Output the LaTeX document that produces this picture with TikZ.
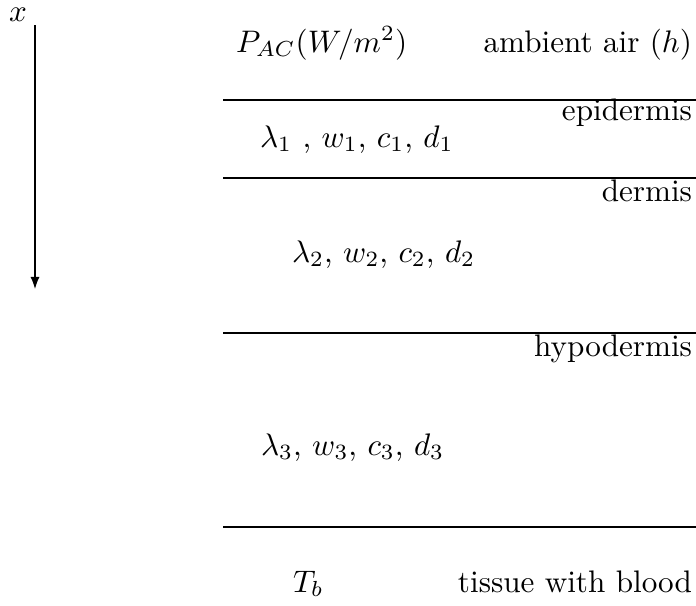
\documentclass[tikz,border=0pt]{standalone}
\usetikzlibrary{arrows.meta}
\begin{document}
\begin{tikzpicture}[x=0.329pt,y=-0.329pt,
  lbl/.style={inner sep=0pt,outer sep=0pt,scale=1.025},
  layer/.style={line width=0.4pt},
  axis/.style={line width=0.4pt,-{Latex[length=4pt,width=3pt]}}]
\useasboundingbox (0,0) rectangle (696,605);
% axis
\node[lbl,anchor=base] (xl) at (18,21) {$x$};
\coordinate (a0) at (35,25);
\coordinate (a1) at (35,289);
\draw[axis] (a0) -- (a1);
% layer boundaries
\foreach \n/\y in {l1/100,l2/178,l3/333,l4/527}{
  \coordinate (\n w) at (223,\y);
  \coordinate (\n e) at (696,\y);
  \draw[layer] (\n w) -- (\n e);
}
% texts
\node[lbl,anchor=base west] (pac) at (236,52) {$P_{AC}(W/m^2)$};
\node[lbl,anchor=base east] (amb) at (692,52) {ambient air $(h)$};
\node[lbl,anchor=base east] (epi) at (692,120) {epidermis};
\node[lbl,anchor=base west] (p1) at (260,147) {$\lambda_1$ , $w_1$, $c_1$, $d_1$};
\node[lbl,anchor=base east] (der) at (692,201) {dermis};
\node[lbl,anchor=base west] (p2) at (292,262) {$\lambda_2$, $w_2$, $c_2$, $d_2$};
\node[lbl,anchor=base east] (hyp) at (692,356) {hypodermis};
\node[lbl,anchor=base west] (p3) at (261,455) {$\lambda_3$, $w_3$, $c_3$, $d_3$};
\node[lbl,anchor=base west] (tb) at (293,592) {$T_b$};
\node[lbl,anchor=base east] (tis) at (692,592) {tissue with blood};
\end{tikzpicture}
\end{document}
